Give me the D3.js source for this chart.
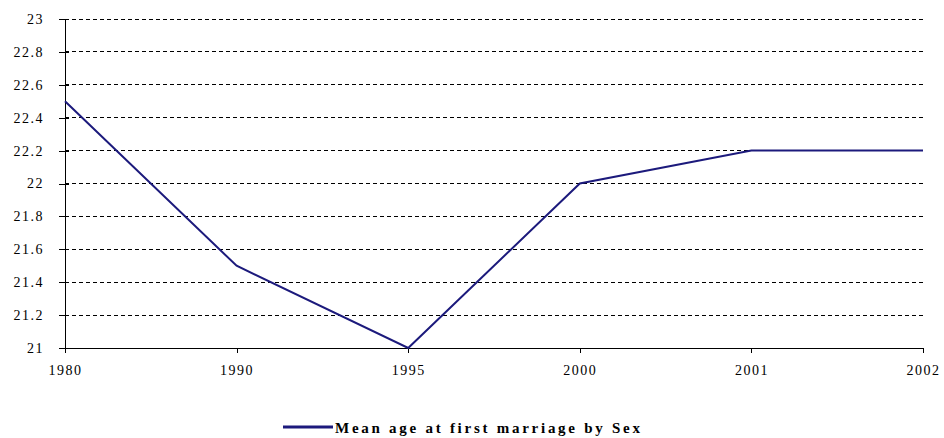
<!DOCTYPE html>
<html>
<head>
<meta charset="utf-8">
<script src="https://cdn.jsdelivr.net/npm/d3@7"></script>
<style>
body { margin:0; background:#fff; }
svg { display:block; }
</style>
</head>
<body>
<svg id="chart" width="944" height="438"></svg>
<script>
try{

// data
var years = ["1980","1990","1995","2000","2001","2002"];
var meanAge = [22.5, 21.5, 21.0, 22.0, 22.2, 22.2];
var yTicks = [21, 21.2, 21.4, 21.6, 21.8, 22, 22.2, 22.4, 22.6, 22.8, 23];
var seriesName = "Mean age at first marriage by Sex";

var svg = d3.select("#chart");

var margin = {left:65, right:21, top:19, bottom:90};
var width = 944 - margin.left - margin.right;
var height = 438 - margin.top - margin.bottom;

var g = svg.append("g").attr("transform","translate("+margin.left+","+margin.top+")");

var x = d3.scalePoint().domain(years).range([0,width]);
var y = d3.scaleLinear().domain([21,23]).range([height,0]);

/* gridlines */
g.selectAll(".grid").data(yTicks.slice(1)).enter().append("line")
	.attr("x1",0).attr("x2",width)
	.attr("y1",function(d){return y(d);}).attr("y2",function(d){return y(d);})
	.attr("stroke","#000").attr("stroke-width",1)
	.attr("stroke-dasharray","4,3")
	.attr("shape-rendering","crispEdges");

/* y axis */
var yAxis = d3.axisLeft(y).tickValues(yTicks).tickSize(6).tickPadding(15)
	.tickFormat(function(d){return d3.format("")(+d.toFixed(1));});
var ya = g.append("g").call(yAxis);
ya.selectAll(".tick line").attr("x2",-6).attr("x1",4);
ya.select(".domain").attr("d","M0,0V"+height);

/* x axis */
var xAxis = d3.axisBottom(x).tickSize(5).tickPadding(12).tickSizeOuter(0);
var xa = g.append("g").attr("transform","translate(0,"+height+")").call(xAxis);

svg.selectAll(".domain, .tick line").attr("stroke","#000").attr("shape-rendering","crispEdges");
svg.selectAll(".tick text")
	.attr("fill","#000")
	.style("font-family","'Liberation Serif', 'DejaVu Serif', serif")
	.style("font-size","14px")
	.style("letter-spacing","1.5px");

/* line */
var line = d3.line()
	.x(function(d,i){return x(years[i]);})
	.y(function(d){return y(d);});

g.append("path").datum(meanAge)
	.attr("d",line)
	.attr("fill","none")
	.attr("stroke","#1c1a7c")
	.attr("stroke-width",2);

/* legend */
var legend = svg.append("g").attr("transform","translate(283,427)");
legend.append("line").attr("x1",0).attr("x2",50).attr("y1",0).attr("y2",0)
	.attr("stroke","#1c1a7c").attr("stroke-width",3);
legend.append("text").attr("x",52).attr("y",6)
	.text(seriesName)
	.attr("textLength",305).attr("lengthAdjust","spacing")
	.style("font-family","'Liberation Serif', 'DejaVu Serif', serif")
	.style("font-size","15px")
	.style("font-weight","bold");

} catch (e) {
	console.log(e);
}
</script>
</body>
</html>
